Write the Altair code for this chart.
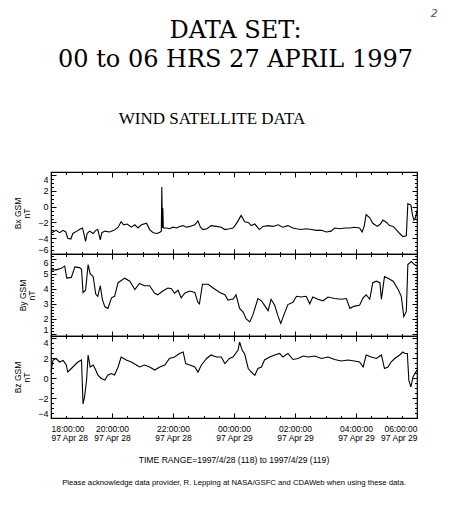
import altair as alt
import pandas as pd

# ---------------- data (minutes after 1997-04-28 18:00 UT, nT) ----------------
bx_min = [0, 4, 10, 17, 24, 29, 33, 39, 43, 51, 56, 62, 65, 68, 71, 76, 83, 88, 92, 97,
          100, 106, 115, 124, 132, 138, 143, 150, 158, 165, 171, 178, 188, 194, 201, 209, 215, 217, 218, 219,
          220, 221, 227, 233, 240, 247, 253, 260, 266, 273, 283, 289, 294, 299, 307, 315, 325, 335, 342, 351,
          358, 361, 368, 374, 381, 388, 394, 401, 410, 417, 427, 437, 447, 456, 466, 476, 483, 492, 502, 512,
          522, 532, 542, 551, 558, 568, 578, 588, 597, 607, 612, 616, 620, 627, 633, 642, 648, 653, 660, 666,
          673, 679, 686, 692, 699, 702, 708, 711, 714, 717, 720]
bx_val = [-3.4, -3.2, -3.0, -3.3, -3.0, -3.2, -4.0, -4.1, -3.4, -3.1, -2.9, -2.7, -3.5, -4.4, -3.4, -3.1, -3.4, -3.0, -2.9, -4.2,
          -3.3, -3.1, -3.2, -3.0, -2.6, -1.9, -2.3, -2.2, -2.6, -2.3, -2.7, -2.3, -2.1, -2.9, -3.3, -3.4, -3.2, -3.1, 2.5, -2.7,
          -0.2, -2.7, -2.7, -2.8, -2.6, -2.7, -2.5, -2.4, -2.6, -2.5, -2.3, -1.8, -2.6, -2.9, -2.8, -2.4, -2.5, -2.6, -2.9, -2.8,
          -2.7, -2.5, -1.8, -1.1, -1.9, -2.0, -2.4, -2.2, -2.9, -2.5, -2.4, -2.5, -2.3, -2.6, -2.4, -2.7, -2.8, -2.9, -2.8, -2.9,
          -3.0, -3.0, -3.2, -3.1, -2.7, -2.8, -2.7, -2.7, -2.6, -2.7, -3.2, -2.5, -1.0, -1.4, -2.1, -2.5, -2.2, -1.7, -2.0, -2.4,
          -2.5, -2.9, -3.4, -3.8, -3.7, 0.4, 0.2, -1.0, -1.7, -1.4, -0.5]

by_min = [0, 3, 10, 20, 27, 31, 40, 47, 56, 60, 63, 68, 73, 77, 83, 88, 92, 97, 101, 106,
          112, 119, 125, 132, 145, 155, 165, 174, 184, 194, 204, 210, 220, 230, 237, 243, 250, 256, 263, 273,
          283, 289, 292, 298, 309, 319, 332, 342, 348, 355, 358, 364, 371, 378, 384, 391, 397, 407, 414, 420,
          427, 433, 440, 447, 452, 458, 466, 476, 483, 492, 502, 509, 515, 525, 535, 545, 558, 571, 581, 588,
          597, 607, 614, 620, 627, 633, 640, 647, 650, 656, 663, 673, 683, 689, 694, 699, 702, 709, 715, 720]
by_val = [5.2, 5.25, 5.25, 5.35, 5.5, 4.7, 4.75, 5.45, 5.4, 5.3, 3.75, 3.9, 5.6, 5.0, 4.8, 3.65, 3.5, 4.2, 3.3, 2.8,
          2.7, 3.4, 3.5, 4.4, 4.7, 4.5, 3.95, 4.35, 4.2, 4.2, 3.7, 3.6, 3.85, 4.05, 4.0, 3.7, 3.9, 3.4, 3.7, 3.85,
          3.75, 3.1, 3.0, 4.3, 4.3, 4.05, 3.75, 3.6, 3.25, 3.3, 3.3, 3.6, 2.7, 2.45, 2.0, 1.8, 2.25, 3.35, 3.2, 2.9,
          2.55, 3.3, 2.9, 2.15, 1.7, 2.25, 2.95, 3.1, 3.5, 3.45, 3.5, 3.0, 3.45, 3.3, 3.2, 3.45, 3.35, 3.3, 3.35, 2.7,
          2.85, 2.9, 3.4, 3.6, 3.3, 4.4, 4.5, 4.4, 3.3, 4.8, 4.7, 4.5, 3.95, 3.5, 2.15, 2.5, 5.6, 5.8, 5.6, 5.5]

bz_min = [0, 4, 10, 17, 24, 30, 33, 40, 47, 53, 60, 63, 66, 70, 73, 77, 83, 88, 92, 99,
          106, 112, 119, 125, 132, 138, 148, 158, 168, 174, 184, 194, 204, 214, 224, 233, 243, 253, 260, 265,
          273, 283, 289, 296, 306, 315, 325, 335, 342, 351, 358, 368, 371, 376, 381, 388, 394, 401, 407, 414,
          420, 430, 440, 450, 456, 466, 476, 486, 496, 506, 519, 532, 545, 558, 571, 584, 597, 607, 614, 620,
          630, 640, 650, 656, 663, 669, 676, 686, 692, 696, 701, 704, 708, 712, 720]
bz_val = [0.6, 1.8, 1.95, 1.6, 1.75, 1.3, 0.6, 0.95, 1.3, 1.6, 1.8, -2.6, -1.9, -0.2, 2.3, 1.1, 1.3, 0.8, 0.3, -0.05,
          -0.2, 0.3, 0.45, 0.3, 1.1, 2.1, 1.8, 1.6, 1.3, 1.1, 1.3, 1.1, 0.8, 1.1, 1.3, 1.95, 2.1, 2.45, 2.6, 1.45,
          1.3, 1.1, 0.6, 1.3, 1.95, 2.3, 2.1, 2.1, 1.45, 1.95, 2.1, 2.8, 3.6, 2.8, 2.4, 0.95, 0.6, 0.27, 0.95, 1.1,
          1.8, 2.1, 2.3, 2.45, 2.1, 2.45, 1.85, 1.95, 2.2, 2.1, 2.2, 1.95, 2.1, 1.85, 1.7, 1.8, 1.7, 1.6, 1.1, 2.3,
          2.1, 1.95, 2.3, 0.95, 1.1, 1.6, 1.95, 2.3, 2.6, 2.45, 2.45, -0.25, -0.9, 0.1, 0.8]

panel_titles = [["Bx GSM", "nT"], ["By GSM", "nT"], ["Bz GSM", "nT"]]
page_mark = "2"
main_title = ["DATA SET:", "00 to 06 HRS 27 APRIL 1997"]
sub_title = "WIND SATELLITE DATA"
range_text = "TIME RANGE=1997/4/28 (118) to 1997/4/29 (119)"
ack_text = "Please acknowledge data provider, R. Lepping at NASA/GSFC and CDAWeb when using these data."

# ---------------- layout helpers ----------------
W, H = 366, 82
BASE = pd.Timestamp("1997-04-28 18:00:00", tz="UTC")
base_ms = int(BASE.value // 10**6)
x_domain = [base_ms, base_ms + 12 * 3600000]
x_major = [base_ms + h * 3600000 for h in range(0, 13, 2)]
x_minor = [base_ms + k * 1800000 for k in range(0, 25) if k % 4 != 0]

SANS = "Liberation Sans"
MAJ, MIN = 5, 2.5


def to_iso(mins):
    return [(BASE + pd.Timedelta(minutes=m)).strftime("%Y-%m-%dT%H:%M:%SZ") for m in mins]


def frange(lo, hi, step):
    out = []
    v = lo
    while v <= hi + 1e-9:
        out.append(round(v, 3))
        v += step
    return out


def tick_layer(df, xs, ys, xvals, yvals, size, side):
    # side "a": ticks on bottom edge (pointing up) and left edge (pointing right)
    # side "b": ticks on top edge (pointing down) and right edge (pointing left)
    xo = "top" if side == "a" else "bottom"
    yo = "right" if side == "a" else "left"
    return alt.Chart(df).mark_line(opacity=0).encode(
        x=alt.X("t:T", scale=xs, axis=alt.Axis(
            orient=xo, offset=-H, values=xvals, labels=False, domain=False, grid=False,
            title=None, tickSize=size, tickColor="black", tickWidth=1)),
        y=alt.Y("v:Q", scale=ys, axis=alt.Axis(
            orient=yo, offset=-W, values=yvals, labels=False, domain=False, grid=False,
            title=None, tickSize=size, tickColor="black", tickWidth=1)),
    )


def panel(mins, vals, ytitle, domain, majors, minors, bottom, title=None):
    df = pd.DataFrame({"t": to_iso(mins), "v": vals})
    xs = alt.Scale(type="utc", domain=x_domain, nice=False)
    ys = alt.Scale(domain=domain, nice=False, zero=False)

    if bottom:
        xax = alt.Axis(orient="bottom", values=x_major, ticks=False, domain=False, grid=False,
                       title=None, labelFont=SANS, labelFontSize=8.5, labelColor="black",
                       labelLineHeight=9, labelPadding=6, labelAngle=0,
                       labelExpr="[utcFormat(datum.value, '%H:%M:%S'), utcFormat(datum.value, '%y %b %d')]")
    else:
        xax = None

    line = alt.Chart(df).mark_line(color="black", strokeWidth=1.1).encode(
        x=alt.X("t:T", scale=xs, axis=xax),
        y=alt.Y("v:Q", scale=ys, axis=alt.Axis(
            orient="left", values=majors, ticks=False, domain=False, grid=False,
            title=ytitle, titleFont=SANS, titleFontSize=8.5, titleFontWeight="normal",
            titleColor="black", titlePadding=6, titleLineHeight=9, labelFlush=6,
            labelFont=SANS, labelFontSize=9, labelColor="black", labelPadding=3)),
    )
    layers = [
        tick_layer(df, xs, ys, x_major, majors, MAJ, "a"),
        tick_layer(df, xs, ys, x_minor, minors, MIN, "a"),
        tick_layer(df, xs, ys, x_major, majors, MAJ, "b"),
        tick_layer(df, xs, ys, x_minor, minors, MIN, "b"),
        line,
    ]
    ch = alt.layer(*layers).resolve_axis(x="independent", y="independent")
    if title is not None:
        ch = ch.properties(width=W, height=H, title=title)
    else:
        ch = ch.properties(width=W, height=H)
    return ch


bx_major = [-6, -4, -2, 0, 2, 4]
bx_minor = [v for v in frange(-6, 4.4, 0.5) if v not in bx_major]
by_major = [1, 2, 3, 4, 5, 6]
by_minor = [v for v in frange(1, 6.3, 0.2) if round(v, 3) not in by_major]
bz_major = [-4, -2, 0, 2, 4]
bz_minor = [v for v in frange(-4, 4.2, 0.5) if v not in bz_major]

p1 = panel(bx_min, bx_val, panel_titles[0], [-6, 4.4], bx_major, bx_minor, False,
           title=alt.TitleParams(sub_title, font="Liberation Serif", fontSize=17, fontWeight="normal",
                                 color="black", anchor="middle", offset=44, dx=-22))
p2 = panel(by_min, by_val, panel_titles[1], [0.87, 6.3], by_major, by_minor, False)
p3 = panel(bz_min, bz_val, panel_titles[2], [-4, 4.2], bz_major, bz_minor, True,
           title=alt.TitleParams(range_text, subtitle=ack_text, orient="bottom", anchor="middle",
                                 font=SANS, fontSize=8.6, fontWeight="normal", color="black", offset=14,
                                 subtitleFont=SANS, subtitleFontSize=7.7, subtitleColor="black",
                                 subtitlePadding=15))

inner = alt.vconcat(p1, p2, p3, spacing=0, bounds="flush").properties(
    title=alt.TitleParams(main_title, font="DejaVu Serif", fontSize=24, fontWeight="normal",
                          color="black", lineHeight=28.5, anchor="middle", offset=37, dx=19),
)

chart = alt.vconcat(inner, spacing=0).properties(
    title=alt.TitleParams(page_mark, font="DejaVu Sans", fontSize=11, fontWeight="normal",
                          fontStyle="italic", color="#555555", anchor="end", offset=0, dx=18),
    background="white",
    padding={"left": 5, "top": 0, "right": 5, "bottom": 5},
).configure_view(stroke="black", strokeWidth=1.2)

chart.save("out.html", embed_options={"renderer": "svg", "actions": False})
